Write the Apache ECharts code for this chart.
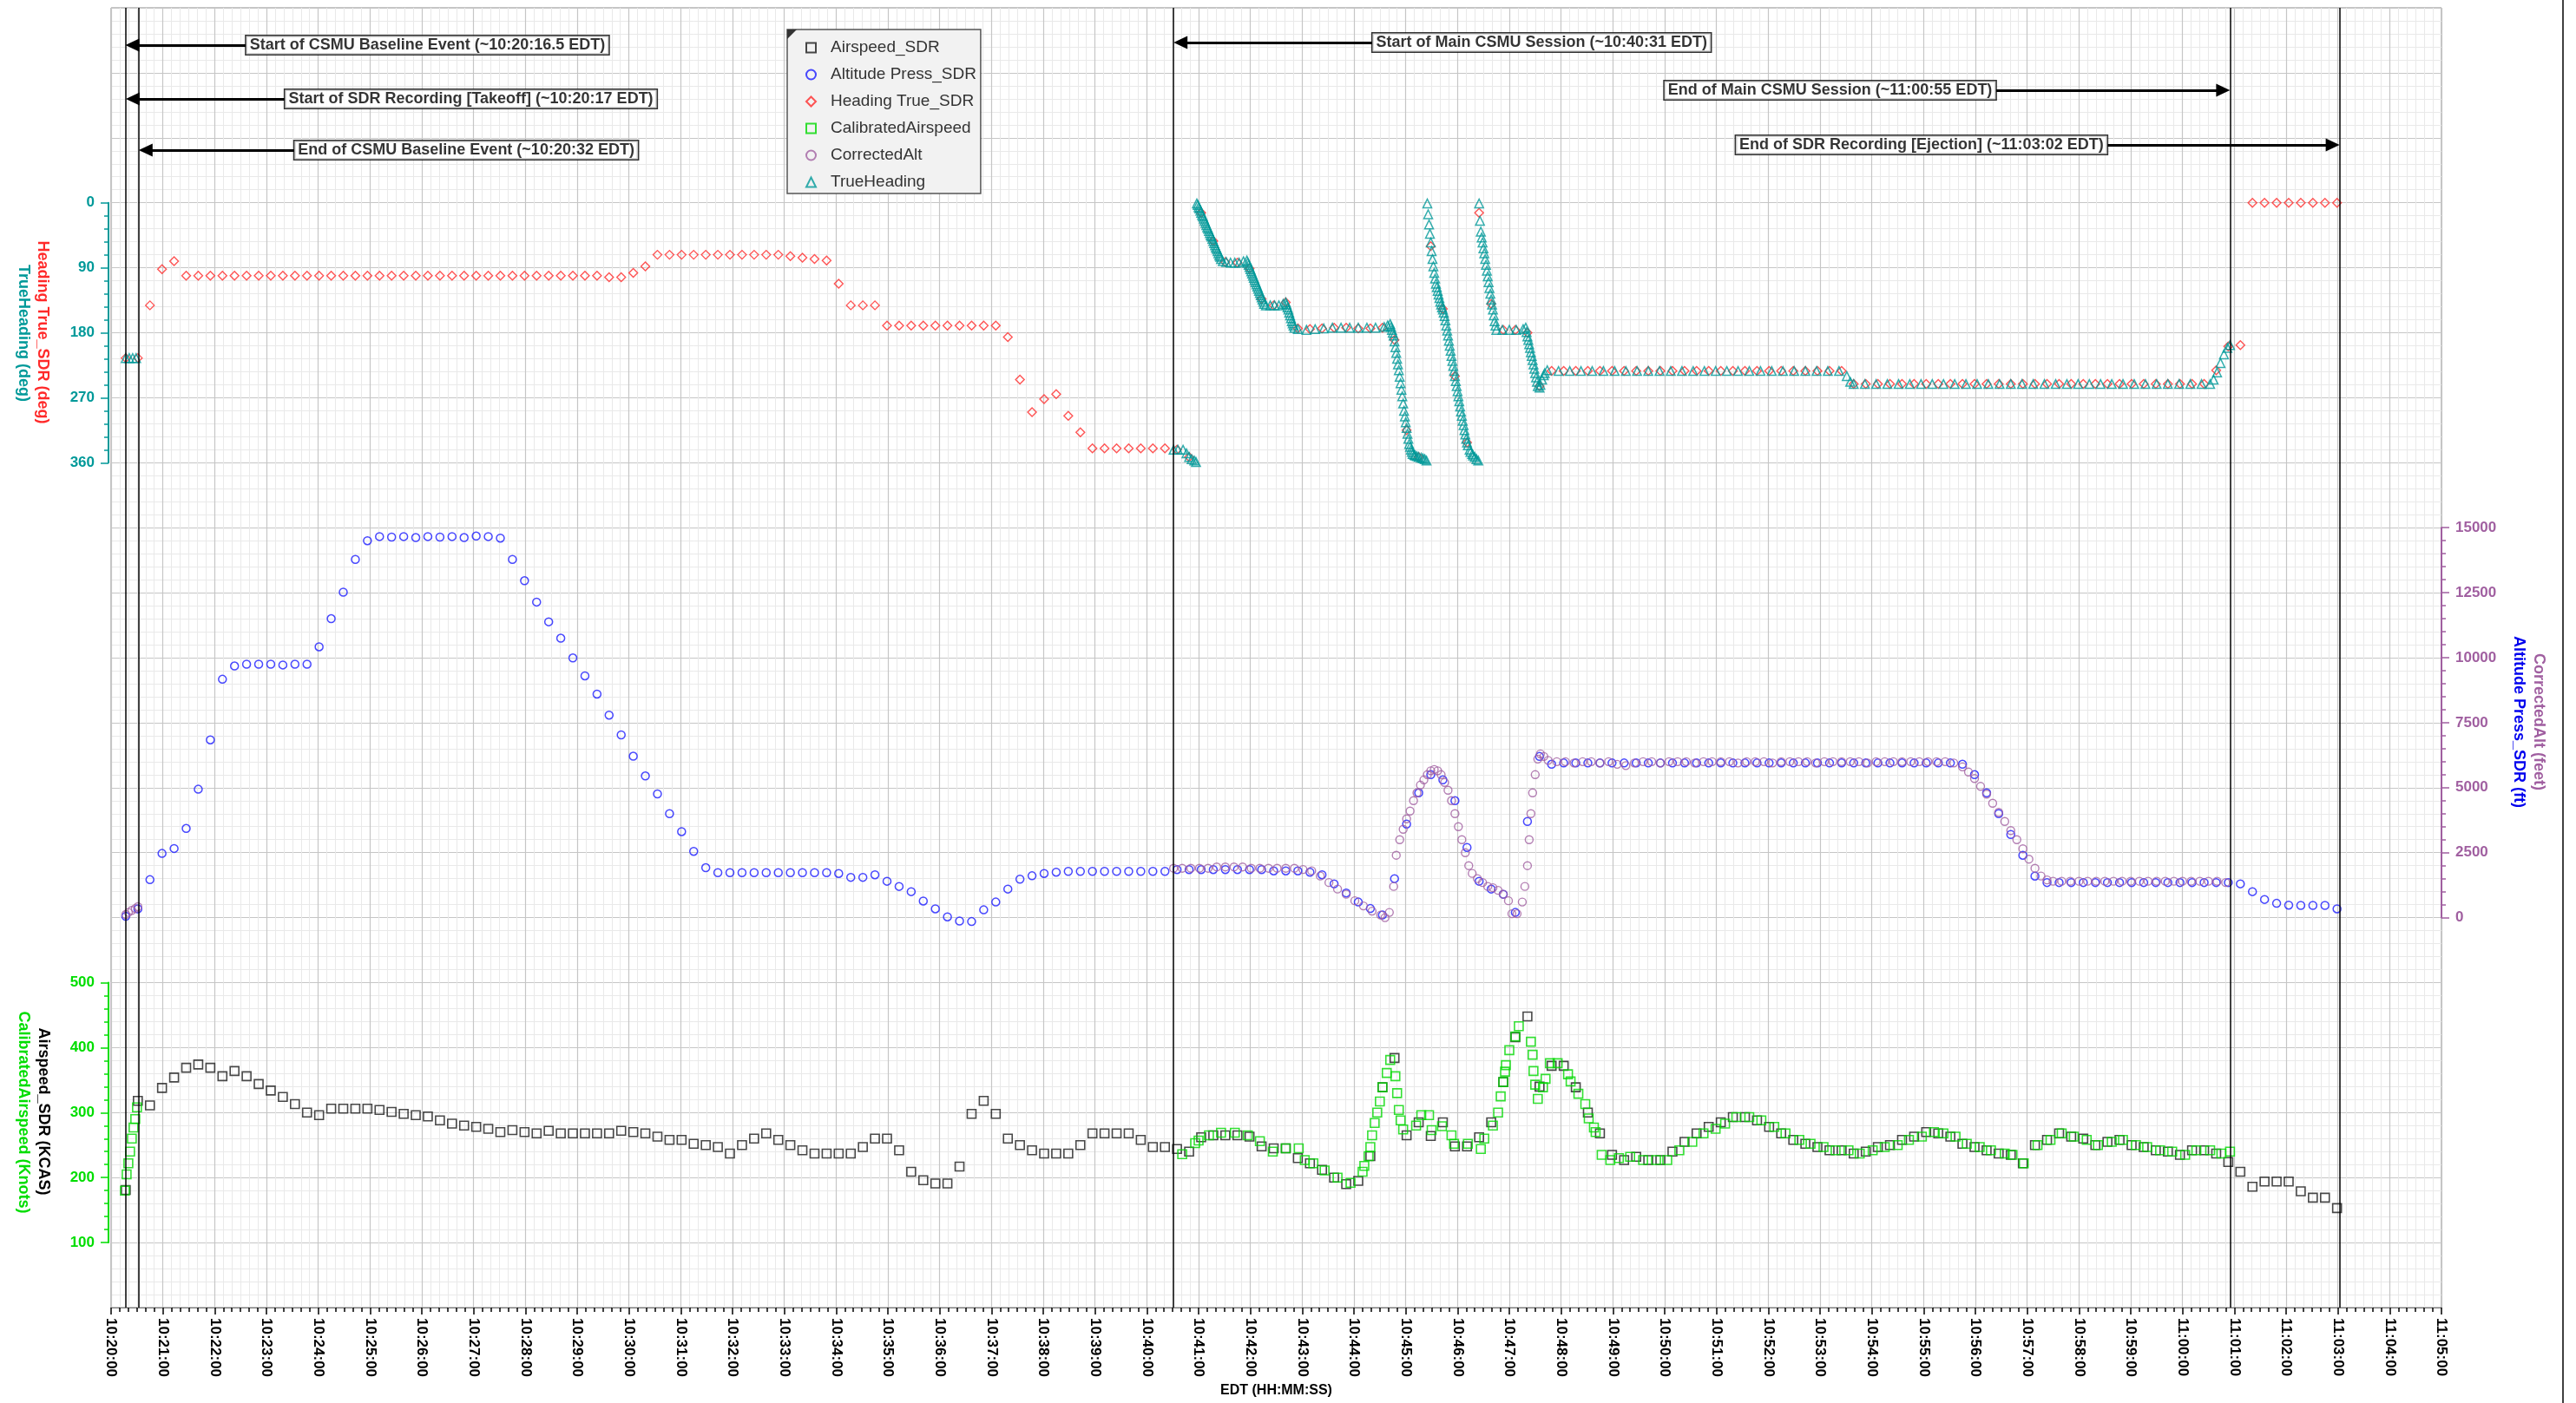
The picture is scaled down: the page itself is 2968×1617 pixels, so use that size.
<!DOCTYPE html>
<html><head><meta charset="utf-8">
<script src="https://cdn.jsdelivr.net/npm/echarts@6/dist/echarts.min.js"></script>
<style>html,body{margin:0;padding:0;background:#fff}#c{width:2968px;height:1617px}</style>
</head><body><div id="c"></div>
<script>
// ---------- DATA (time = seconds after 10:20:00 EDT) ----------
const sdrStart = 17, sdrStep = 14;   // SDR recorder sample times
const airspeedSDR = [
181,318,311,338,354,369,374,369,356,364,
356,344,334,324,313,300,296,306,306,306,
306,304,301,298,296,294,288,283,280,278,
275,270,273,270,268,272,268,268,268,268,
268,272,270,268,263,258,258,252,250,247,
237,250,260,268,258,250,242,237,237,237,
237,247,260,260,242,209,196,191,191,217,
298,318,298,260,250,242,237,237,237,250,
268,268,268,268,258,247,247,244,240,262,
265,265,265,263,248,245,245,230,222,212,
200,190,195,233,339,384,265,285,264,285,
248,248,262,285,347,416,448,340,372,372,
339,300,268,235,227,232,227,227,240,255,
268,278,285,293,293,288,278,268,258,252,
247,242,242,237,240,247,250,258,263,270,
268,263,252,247,242,237,235,222,250,258,
268,263,260,250,255,258,250,247,242,240,
235,242,242,237,224,209,186,194,194,194,
179,169,169,153];
const altitudePressSDR = [
50,340,1460,2470,2660,3430,4940,6840,9170,9680,
9750,9750,9750,9720,9750,9750,10420,11500,12520,13780,
14500,14660,14640,14660,14620,14660,14640,14660,14620,14680,
14660,14600,13780,12960,12140,11380,10750,9990,9300,8600,
7790,7030,6210,5450,4760,4000,3310,2550,1920,1730,
1730,1730,1730,1730,1730,1730,1730,1730,1730,1700,
1550,1550,1650,1400,1200,1000,640,340,30,-130,
-150,300,600,1100,1480,1610,1700,1750,1780,1780,
1780,1780,1780,1780,1780,1780,1780,1850,1850,1850,
1850,1850,1850,1850,1850,1800,1800,1800,1750,1650,
1300,950,600,350,100,1500,3600,4800,5500,5300,
4500,2700,1400,1100,900,200,3700,6200,5900,5950,
5950,5950,5950,5950,5950,5950,5950,5950,5950,5950,
5950,5950,5950,5950,5950,5950,5950,5950,5950,5950,
5950,5950,5950,5950,5950,5950,5950,5950,5950,5950,
5950,5950,5900,5500,4800,4000,3200,2400,1600,1350,
1350,1350,1350,1350,1350,1350,1350,1350,1350,1350,
1350,1350,1350,1350,1350,1300,1000,700,550,480,
470,470,470,340];
const headingTrueSDR = [
215,215,142,92,81,101,101,101,101,101,
101,101,101,101,101,101,101,101,101,101,
101,101,101,101,101,101,101,101,101,101,
101,101,101,101,101,101,101,101,101,101,
103,103,97,88,72,72,72,72,72,72,
72,72,72,72,72,74,76,78,80,112,
142,142,142,170,170,170,170,170,170,170,
170,170,170,186,245,290,272,265,295,318,
340,340,340,340,340,340,340,342,352,14,
53,82,83,91,133,142,138,174,175,174,
173,173,174,174,173,190,315,352,60,147,
240,332,14,140,176,176,180,254,233,233,
233,233,233,233,233,233,233,233,233,233,
233,233,233,233,233,233,233,233,233,233,
233,233,233,251,251,251,251,251,251,251,
251,251,251,251,251,251,251,251,251,251,
251,251,251,251,251,251,251,251,251,251,
251,251,251,232,199,197,0,0,0,0,
0,0,0,0];
const calibratedAirspeed = [
[16,180],[18,205],[20,222],[22,240],[24,260],[26,277],[28,290],[30,308],
[1241,236],[1256,253],[1260,257],[1272,265],[1286,269],[1302,269],[1317,265],[1331,256],[1346,240],[1361,245],[1376,245],
[1383,227],[1393,222],[1406,211],[1421,200],[1436,192],[1450,209],[1452,218],[1457,233],[1459,247],[1461,265],[1464,284],
[1467,300],[1470,317],[1473,339],[1478,361],[1482,381],[1488,356],[1490,330],[1492,304],[1494,288],[1497,274],[1512,280],
[1518,296],[1527,296],[1530,273],[1542,279],[1553,265],[1556,252],[1572,252],[1587,244],[1591,260],[1601,280],[1607,300],
[1610,325],[1613,347],[1615,363],[1616,373],[1620,396],[1627,417],[1631,433],[1645,409],[1647,389],[1648,364],[1650,343],
[1653,321],[1659,339],[1662,352],[1667,376],[1676,376],[1688,359],[1691,348],[1700,329],[1708,313],[1712,291],[1718,277],
[1720,270],[1727,235],[1737,227],[1747,230],[1760,232],[1775,227],[1790,227],[1803,227],[1817,242],[1832,255],[1845,268],
[1859,275],[1870,283],[1883,293],[1898,293],[1912,288],[1927,278],[1940,268],[1956,258],[1969,252],[1984,247],[1998,242],
[2013,242],[2026,237],[2041,242],[2055,247],[2070,250],[2083,258],[2098,263],[2112,270],[2123,268],[2137,263],[2150,252],
[2165,247],[2178,242],[2194,237],[2203,235],[2216,222],[2232,250],[2247,258],[2260,268],[2274,263],[2289,258],[2302,250],
[2318,255],[2331,258],[2346,250],[2359,247],[2374,242],[2388,240],[2403,235],[2416,242],[2432,242],[2445,237],[2455,240]];
const correctedAlt = [
[17,120],[20,200],[24,280],[28,350],[31,420],
[1231,1900],[1241,1900],[1251,1900],[1261,1900],[1271,1900],[1281,1950],[1291,1950],[1301,1950],[1311,1950],[1321,1900],
[1331,1900],[1341,1900],[1351,1900],[1361,1900],[1371,1900],[1381,1850],[1391,1800],[1401,1600],[1411,1350],[1421,1100],
[1431,900],[1441,650],[1451,450],[1461,250],[1471,100],[1476,0],[1481,200],[1486,1200],[1489,2400],[1493,3000],[1497,3400],
[1501,3800],[1505,4100],[1509,4500],[1513,4800],[1517,5100],[1521,5300],[1525,5500],[1529,5650],[1533,5700],[1537,5650],
[1541,5500],[1545,5200],[1549,4900],[1553,4500],[1557,4000],[1561,3500],[1565,3000],[1569,2500],[1573,2000],[1577,1700],
[1583,1500],[1589,1350],[1595,1200],[1601,1150],[1607,1050],[1613,900],[1619,650],[1623,150],[1629,150],[1635,600],
[1638,1200],[1641,2000],[1643,3000],[1645,4000],[1647,4800],[1650,5500],[1653,6100],[1656,6300],[1660,6200],[1665,6050],
[1675,6000],[1685,6000],[1695,5950],[1705,6000],[1715,6000],[1725,5950],[1735,6000],[1745,5900],[1755,5850],[1765,5950],
[1775,6000],[1785,6000],[1795,5950],[1805,6000],[1815,6000],[1825,6000],[1835,5950],[1845,6000],[1855,6000],[1865,6000],
[1875,6000],[1885,5950],[1895,6000],[1905,6000],[1915,6000],[1925,5950],[1935,6000],[1945,6000],[1955,6000],[1965,6000],
[1975,5950],[1985,6000],[1995,6000],[2005,6000],[2015,6000],[2025,6000],[2035,5950],[2045,6000],[2055,6000],[2065,6000],
[2075,6000],[2085,6000],[2095,6000],[2105,6000],[2115,6000],[2125,6000],[2135,5950],
[2145,5800],[2152,5600],[2159,5350],[2166,5050],[2173,4750],[2180,4400],[2187,4050],[2194,3700],[2201,3350],[2208,3000],
[2215,2650],[2222,2250],[2229,1900],[2236,1600],[2243,1450],
[2250,1400],[2260,1400],[2270,1400],[2280,1400],[2290,1400],[2300,1400],[2310,1400],[2320,1400],[2330,1400],[2340,1400],
[2350,1400],[2360,1400],[2370,1400],[2380,1400],[2390,1400],[2400,1400],[2410,1400],[2420,1400],[2430,1400],[2440,1400],[2450,1350]];
const trueHeading = [
[17,215],[21,215],[25,215],[29,215],
[1231,342],[1236,342],[1242,342],[1246,347],[1249,352],[1252,355],[1255,357],[1257,359],
[1258,1],[1259,3],[1260,6],[1261,8],[1262,11],[1263,14],[1264,17],[1265,19],[1266,22],[1267,25],[1268,28],[1269,31],[1270,34],
[1271,36],[1272,39],[1273,42],[1274,45],[1275,47],[1276,50],[1277,53],[1278,56],[1279,59],[1280,62],[1281,64],[1282,67],
[1283,70],[1284,73],[1285,75],[1286,78],[1288,81],[1292,82],[1297,83],[1302,83],[1307,83],[1312,81],[1316,80],[1317,83],
[1318,86],[1319,89],[1320,92],[1321,95],[1322,98],[1323,101],[1324,104],[1325,107],[1326,110],[1327,113],[1328,116],
[1329,119],[1330,122],[1331,125],[1332,128],[1333,131],[1334,134],[1335,137],[1336,140],[1338,142],[1343,142],[1348,142],
[1353,142],[1358,140],[1361,138],[1362,141],[1363,145],[1364,148],[1365,152],[1366,156],[1367,160],[1368,164],[1369,167],
[1370,170],[1371,173],[1375,175],[1385,176],[1395,175],[1405,174],[1415,173],[1425,173],[1435,173],[1445,173],[1455,173],
[1465,173],[1475,172],[1479,170],[1482,168],[1483,172],[1484,176],[1485,180],[1486,184],[1487,192],[1488,200],[1489,208],
[1490,216],[1491,224],[1492,232],[1493,241],[1494,250],[1495,259],[1496,268],[1497,278],[1498,288],[1499,296],[1500,304],
[1501,312],[1502,320],[1503,327],[1504,334],[1505,338],[1506,342],[1507,345],[1508,348],[1510,349],[1511,350],[1513,351],
[1515,352],[1518,353],[1520,354],[1522,355],[1524,357],
[1525,1],[1526,16],[1527,30],[1528,43],[1529,55],[1530,67],[1531,78],[1532,88],[1533,97],[1534,105],[1535,112],[1536,117],
[1537,122],[1538,127],[1539,132],[1540,137],[1541,141],[1542,145],[1543,148],[1544,152],[1545,157],[1546,163],[1547,170],
[1548,177],[1549,184],[1550,191],[1551,198],[1552,205],[1553,212],[1554,219],[1555,226],[1556,233],[1557,240],[1558,247],
[1559,254],[1560,261],[1561,268],[1562,275],[1563,282],[1564,289],[1565,295],[1566,302],[1567,308],[1568,315],[1569,321],
[1570,327],[1571,332],[1572,336],[1574,342],[1575,345],[1577,348],[1578,350],[1580,352],[1582,355],[1584,357],
[1585,1],[1586,25],[1587,40],[1588,48],[1589,55],[1590,63],[1591,70],[1592,78],[1593,86],[1594,94],[1595,102],[1596,110],
[1597,118],[1598,126],[1599,134],[1600,141],[1601,148],[1602,156],[1603,164],[1604,170],[1605,176],
[1612,176],[1620,176],[1628,176],[1636,175],[1639,173],[1640,179],[1641,185],[1642,190],[1643,196],[1644,201],[1645,207],
[1646,212],[1647,218],[1648,224],[1649,230],[1650,236],[1651,242],[1652,248],[1653,254],[1655,256],[1656,252],[1658,245],
[1660,239],[1661,236],[1664,232],
[1677,233],[1690,233],[1703,233],[1716,233],[1729,233],[1742,233],[1755,233],[1768,233],[1781,233],[1794,233],[1807,233],
[1820,233],[1833,233],[1846,233],[1859,233],[1872,233],[1885,233],[1898,233],[1911,233],[1924,233],[1937,233],[1950,233],
[1963,233],[1976,233],[1989,233],[2002,233],[2011,240],[2015,248],[2019,251],
[2032,251],[2045,251],[2058,251],[2071,251],[2084,251],[2097,251],[2110,251],[2123,251],[2136,251],[2149,251],[2162,251],
[2175,251],[2188,251],[2201,251],[2214,251],[2227,251],[2240,251],[2253,251],[2266,251],[2279,251],[2292,251],[2305,251],
[2318,251],[2331,251],[2344,251],[2357,251],[2370,251],[2383,251],[2396,251],[2409,251],[2422,251],[2432,251],[2436,245],
[2440,235],[2444,222],[2448,210],[2452,201],[2455,197]];
const eventTimes = [16.5, 32, 1231, 2455, 2582];
const annoTexts = [
 'Start of CSMU Baseline Event (~10:20:16.5 EDT)',
 'Start of SDR Recording [Takeoff] (~10:20:17 EDT)',
 'End of CSMU Baseline Event (~10:20:32 EDT)',
 'Start of Main CSMU Session (~10:40:31 EDT)',
 'End of Main CSMU Session (~11:00:55 EDT)',
 'End of SDR Recording [Ejection] (~11:03:02 EDT)'];
const annoTargets = [16.5, 17, 32, 1231, 2455, 2582];
// ---------- LAYOUT ----------
const annoBoxT = [156, 201, 212, 1461, 2184, 2313];   // near edge of box (s)
const annoRow  = [0.574, 1.402, 2.19, 0.534, 1.268, 2.11]; // rows from top
const W = 2968, H = 1617, L = 128, R = 2813, T = 9, B = 1507;
const rowH = (B - T) / 20;
const pxPerSec = (R - L) / 2700;
const F = "'Liberation Sans', Arial, sans-serif";
const C = {black:'#1a1a1a', blue:'#1a1aff', red:'#ff2a2a', green:'#00d800', purple:'#a05fa0', teal:'#009999'};

function pad(n){return (n<10?'0':'')+n;}
function hms(v){const s=10*3600+20*60+v;return pad(Math.floor(s/3600))+':'+pad(Math.floor(s%3600/60))+':'+pad(Math.round(s%60));}
const sdr = arr => arr.map((v,i)=>[sdrStart+i*sdrStep, v]);

const grids = [
 {left:L, right:W-R, top:T, bottom:H-B, show:true, borderColor:'#8a8a8a', borderWidth:1},
 {left:L, right:W-R, top:T+3*rowH, height:4*rowH},
 {left:L, right:W-R, top:T+8*rowH, height:6*rowH},
 {left:L, right:W-R, top:T+15*rowH, height:4*rowH}
];
const hidX = i => ({type:'value', gridIndex:i, min:0, max:2700, show:false});
const xAxes = [
 {type:'value', gridIndex:0, min:0, max:2700, interval:60,
  axisLine:{show:true, onZero:false, lineStyle:{color:'#777', width:1}},
  axisTick:{show:true, length:8, lineStyle:{color:'#000', width:1.5}},
  minorTick:{show:true, splitNumber:6, length:5, lineStyle:{color:'#000', width:1.5}},
  splitLine:{show:true, lineStyle:{color:'#c6c6c6', width:1.2}},
  minorSplitLine:{show:true, lineStyle:{color:'#e9e9e9', width:1}},
  axisLabel:{rotate:-90, margin:12, fontSize:17, fontWeight:'bold', fontFamily:F, color:'#000', formatter:hms, showMaxLabel:true, showMinLabel:true},
  name:'EDT (HH:MM:SS)', nameLocation:'middle', nameGap:88,
  nameTextStyle:{fontSize:16, fontWeight:'bold', fontFamily:F, color:'#000'}},
 hidX(1), hidX(2), hidX(3)
];
function visY(o){
  return Object.assign({type:'value', splitLine:{show:false},
    axisLine:{show:true, onZero:false, lineStyle:{color:o.color, width:2}},
    axisTick:{show:true, length:9, lineStyle:{color:o.color, width:1.5}},
    minorTick:{show:true, splitNumber:5, length:5, lineStyle:{color:o.color, width:1.5}},
    axisLabel:{color:o.color, fontSize:17, fontWeight:'bold', fontFamily:F, margin:16, formatter:v=>String(v)}}, o.extra);
}
const yAxes = [
 {type:'value', gridIndex:0, min:0, max:20, interval:1, inverse:true,
  axisLine:{show:false}, axisTick:{show:false}, axisLabel:{show:false},
  minorTick:{show:false, splitNumber:5},
  splitLine:{show:true, lineStyle:{color:'#c6c6c6', width:1.2}},
  minorSplitLine:{show:true, lineStyle:{color:'#e9e9e9', width:1}}},
 visY({color:C.teal, extra:{gridIndex:1, min:0, max:360, interval:90, inverse:true, position:'left', offset:3}}),
 visY({color:C.purple, extra:{gridIndex:2, min:0, max:15000, interval:2500, position:'right', offset:0}}),
 visY({color:'#00dd00', extra:{gridIndex:3, min:100, max:500, interval:100, position:'left', offset:3}})
];

function sc(name, data, ax, symbol, size, color, bw){
  return {name, type:'scatter', xAxisIndex:ax, yAxisIndex:ax, data, symbol, symbolSize:size, clip:false,
    itemStyle:{color:'rgba(0,0,0,0)', borderColor:color, borderWidth:bw}, emphasis:{disabled:true}, silent:true};
}
const arrowHalf = 8 / pxPerSec;
const annoPoints = annoTexts.map((t,i)=>{
  const right = annoBoxT[i] > annoTargets[i];
  return {value:[annoBoxT[i], annoRow[i]],
    label:{show:true, position: right ? 'right':'left', distance:0, formatter:t}};
});
const arrowLines = annoTexts.map((t,i)=>{
  const right = annoBoxT[i] > annoTargets[i];
  const end = annoTargets[i] + (right ? arrowHalf : -arrowHalf);
  return [{coord:[annoBoxT[i], annoRow[i]], symbol:'none', lineStyle:{width:3, color:'#000'}},
          {coord:[end, annoRow[i]], symbol:'triangle', symbolSize:[15,16]}];
});
const annoSeries = {
  name:'annotations', type:'scatter', xAxisIndex:0, yAxisIndex:0, symbolSize:1, z:5,
  itemStyle:{color:'rgba(0,0,0,0)'}, silent:true, data:annoPoints,
  label:{fontSize:18, fontWeight:'bold', fontFamily:F, color:'#000', backgroundColor:'#fff',
         borderColor:'#000', borderWidth:1.5, padding:[2,4,1,4]},
  markLine:{silent:true, animation:false, symbol:['none','none'], label:{show:false},
    lineStyle:{color:'#000', width:1.5, type:'solid'},
    data: eventTimes.map(t=>({xAxis:t})).concat(arrowLines)}
};

const series = [
  sc('Airspeed_SDR', sdr(airspeedSDR), 3, 'rect', 10, C.black, 1.6),
  sc('Altitude Press_SDR', sdr(altitudePressSDR), 2, 'circle', 9, C.blue, 1.5),
  sc('Heading True_SDR', sdr(headingTrueSDR), 1, 'diamond', 10, C.red, 1.4),
  sc('CalibratedAirspeed', calibratedAirspeed, 3, 'rect', 10, C.green, 1.6),
  sc('CorrectedAlt', correctedAlt, 2, 'circle', 9, C.purple, 1.4),
  sc('TrueHeading', trueHeading, 1, 'triangle', 10, C.teal, 1.5),
  annoSeries
];

function vtext(text, x, y, color){
  return {type:'text', x, y, rotation:-Math.PI/2, silent:true, z:10,
    style:{text, fill:color, font:'bold 18px '+F, align:'center', verticalAlign:'middle'}};
}
const graphic = [
  vtext('Heading True_SDR (deg)', 49, 383, C.red),
  vtext('TrueHeading (deg)', 27, 384, C.teal),
  vtext('Airspeed_SDR (KCAS)', 50, 1281, '#000'),
  vtext('CalibratedAirspeed (Knots)', 27, 1282, '#00dd00'),
  vtext('CorrectedAlt (feet)', 2925, 832, C.purple),
  vtext('Altitude Press_SDR (ft)', 2902, 832, '#0000ee'),
  {type:'line', silent:true, shape:{x1:2953, y1:0, x2:2953, y2:H}, style:{stroke:'#000', lineWidth:1.5}},
  {type:'polygon', silent:true, z:20, shape:{points:[[907,34],[918,34],[907,45]]}, style:{fill:'#333'}}
];

const chart = echarts.init(document.getElementById('c'), null, {renderer:'canvas', width:W, height:H});
chart.setOption({
  animation:false, backgroundColor:'#fff',
  grid:grids, xAxis:xAxes, yAxis:yAxes, series, graphic,
  legend:{left:907, top:34, orient:'vertical', selectedMode:false,
    data:['Airspeed_SDR','Altitude Press_SDR','Heading True_SDR','CalibratedAirspeed','CorrectedAlt','TrueHeading'],
    itemWidth:11, itemHeight:11, itemGap:11, padding:[11,5,3,21],
    backgroundColor:'#f2f2f2', borderColor:'#555', borderWidth:1.5,
    textStyle:{fontSize:19, fontFamily:F, color:'#333', lineHeight:20, padding:[0,0,0,12]}}
});
</script></body></html>
